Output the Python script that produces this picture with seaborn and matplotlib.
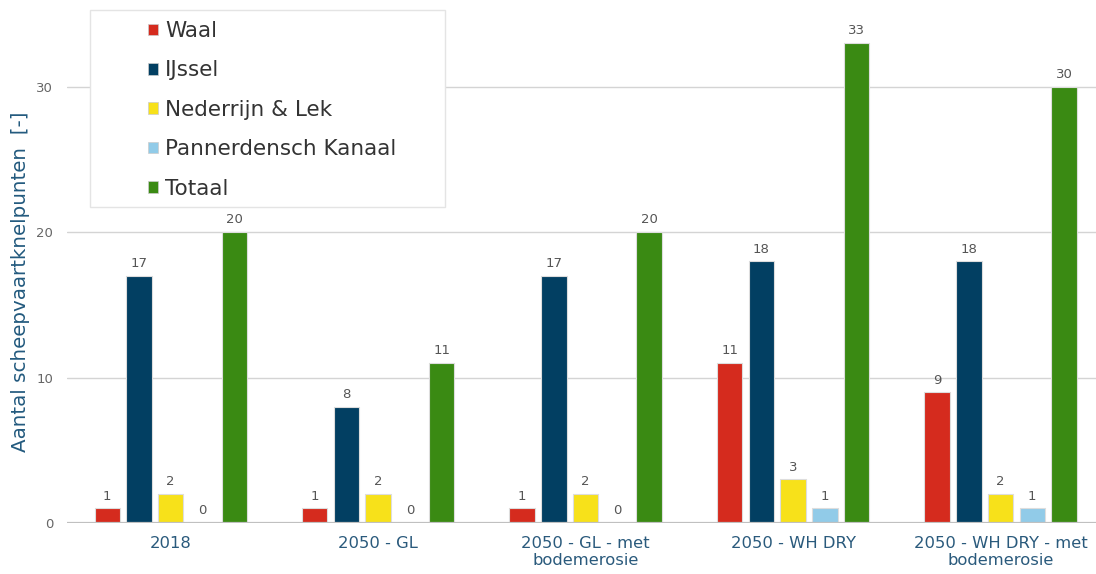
import pandas as pd
import seaborn as sns
import matplotlib.pyplot as plt
from matplotlib.patches import Patch, Rectangle

# data
categories = ['2018', '2050 - GL', '2050 - GL - met\nbodemerosie',
              '2050 - WH DRY', '2050 - WH DRY - met\nbodemerosie']
series = ['Waal', 'IJssel', 'Nederrijn & Lek', 'Pannerdensch Kanaal', 'Totaal']
waal = [1, 1, 1, 11, 9]
ijssel = [17, 8, 17, 18, 18]
nederrijn_lek = [2, 2, 2, 3, 2]
pannerdensch = [0, 0, 0, 1, 1]
totaal = [20, 11, 20, 33, 30]
colors = ['#d52b1e', '#023f62', '#f7e11a', '#91cbe8', '#3a8a13']

values = [waal, ijssel, nederrijn_lek, pannerdensch, totaal]
rows = []
for name, vals in zip(series, values):
    for cat, v in zip(categories, vals):
        rows.append({'Scenario': cat, 'Rivier': name, 'Aantal': v})
df = pd.DataFrame(rows)

sns.set_style('white')
plt.rcParams['font.family'] = ['DejaVu Sans']

fig = plt.figure(figsize=(10.96, 5.74), dpi=100)
ax = fig.add_axes([67 / 1096, 51 / 574, (1096 - 67) / 1096, 523 / 574])

sns.barplot(data=df, x='Scenario', y='Aantal', hue='Rivier', order=categories,
            hue_order=series, palette=colors, width=0.765, gap=0.2,
            edgecolor='#dddddd', linewidth=0.8, saturation=1, legend=False, ax=ax)

for cont in ax.containers:
    ax.bar_label(cont, fmt='%d', padding=4, fontsize=9.5, color='#555555')

ax.set_ylim(0, 35.95)
ax.set_xlim(-0.5, 4.46)
ax.set_yticks([0, 10, 20, 30])
ax.yaxis.grid(True, color='#d4d4d4', linewidth=1)
ax.set_axisbelow(True)
ax.axhline(0, color='#c0c0c0', linewidth=1.6, zorder=1)
for s in ax.spines.values():
    s.set_visible(False)
ax.tick_params(axis='y', length=0, pad=10, labelsize=9.5, labelcolor='#666666')
ax.tick_params(axis='x', length=0, pad=9, labelsize=11.8, labelcolor='#2a5a7c')
ax.set_xlabel('')
ax.set_ylabel('Aantal scheepvaartknelpunten  [-]', fontsize=14.3, color='#235a7e')
ax.yaxis.set_label_coords(-0.036, 0.461)

# legend box with light border
box = Rectangle((90 / 1096, 1 - 207 / 574), (445 - 90) / 1096, (207 - 10) / 574,
                transform=fig.transFigure, facecolor='white', edgecolor='#e4e4e4',
                linewidth=1, zorder=5)
fig.patches.append(box)
handles = [Patch(facecolor=c, edgecolor='#cccccc', linewidth=0.5) for c in colors]
leg = fig.legend(handles, series, loc='upper left', bbox_to_anchor=(133 / 1096, 1 - 6 / 574),
                 frameon=False, fontsize=15.5, labelcolor='#333333',
                 handlelength=0.45, handleheight=0.45, handletextpad=0.35,
                 labelspacing=0.9, borderpad=0.2)
leg.set_zorder(6)

plt.savefig('out.png', dpi=100)
